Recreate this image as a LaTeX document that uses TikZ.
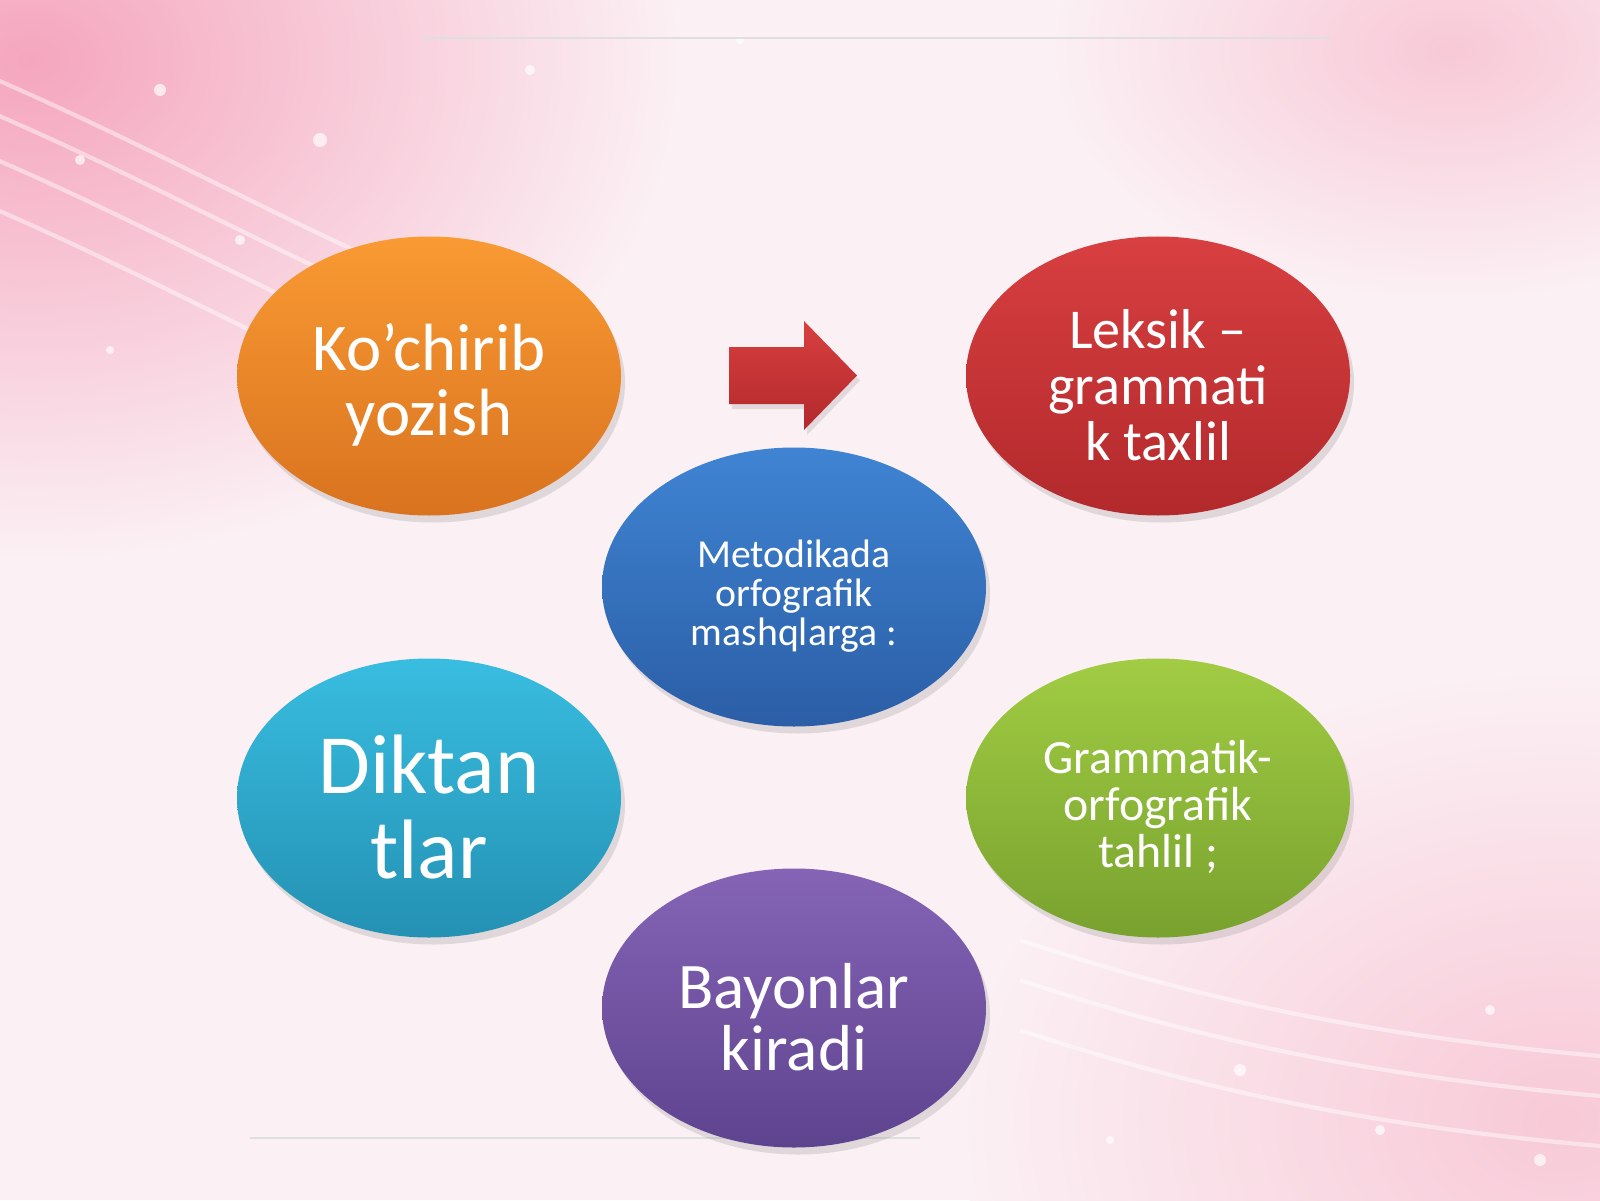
\documentclass[tikz,border=0pt]{standalone}
\usepackage{fontspec}
\setmainfont{Carlito}
\usetikzlibrary{shapes.geometric,shadows}

\definecolor{bgpink}{HTML}{FBF0F4}
\definecolor{rosy}{HTML}{F5A6BE}
\definecolor{rosylight}{HTML}{F8C9D7}
\definecolor{orangetop}{HTML}{F99A33}
\definecolor{orangebot}{HTML}{D9731F}
\definecolor{redtop}{HTML}{D83F40}
\definecolor{redbot}{HTML}{B2292C}
\definecolor{bluetop}{HTML}{3F84D3}
\definecolor{bluebot}{HTML}{2B5EA6}
\definecolor{cyantop}{HTML}{38BDE0}
\definecolor{cyanbot}{HTML}{2491B3}
\definecolor{greentop}{HTML}{A1CC43}
\definecolor{greenbot}{HTML}{78A22E}
\definecolor{purpletop}{HTML}{8564B6}
\definecolor{purplebot}{HTML}{5E438F}

\tikzset{
  bubble/.style={ellipse, minimum width=3.84cm, minimum height=2.79cm,
    inner sep=0pt,
    drop shadow={opacity=0.22, shadow xshift=0.04cm, shadow yshift=-0.07cm}},
  words/.style={align=center, text=white, inner sep=0pt, yshift=-0.09cm},
  streak/.style={white, line width=1.2pt, opacity=0.45},
  sparkle/.style={white, opacity=0.7}
}

\begin{document}
\begin{tikzpicture}

  % Background of the slide
  \fill[bgpink] (0,0) rectangle (16,12);
  \begin{scope}
    \clip (0,0) rectangle (16,12);
    \shade[inner color=rosy, outer color=bgpink] (0.3,11.4) ellipse (6.5 and 5);
    \shade[inner color=rosylight, outer color=bgpink] (15.6,0.8) ellipse (6 and 4.5);
    \shade[inner color=rosylight, outer color=bgpink] (14.5,11.5) ellipse (4 and 2.5);
    \foreach \s in {0,0.35,0.8,1.3}
      \draw[streak] (-0.5,11.4-\s) .. controls (1.2,10.7-\s) and (2.6,9.9-\s) .. (4.2,9.2-\s);
    \foreach \s in {0,0.4,0.9}
      \draw[streak] (10.2,2.6-\s) .. controls (12,2-\s) and (13.8,1.6-\s) .. (16.5,1.4-\s);
    \foreach \x/\y/\r in {1.6/11.1/0.06, 0.8/10.4/0.05, 3.2/10.6/0.07, 2.4/9.6/0.05,
        5.3/11.3/0.05, 1.1/8.5/0.04, 4.1/9.1/0.05, 7.4/11.6/0.04,
        12.4/1.3/0.06, 13.8/0.7/0.05, 14.9/1.9/0.05, 11.1/0.6/0.04, 15.4/0.4/0.06}
      \fill[sparkle] (\x,\y) circle (\r);
    \draw[gray!25, line width=0.6pt] (4.2,11.62) -- (13.3,11.62);
    \draw[gray!25, line width=0.6pt] (2.5,0.62) -- (9.2,0.62);
  \end{scope}

  % Draw the six ellipses
  \node[bubble, top color=orangetop, bottom color=orangebot] (kochirib) at (4.29,8.24) {};
  \node[bubble, top color=redtop, bottom color=redbot] (leksik) at (11.58,8.24) {};
  \node[bubble, top color=bluetop, bottom color=bluebot] (metod) at (7.94,6.13) {};
  \node[bubble, top color=cyantop, bottom color=cyanbot] (diktant) at (4.29,4.02) {};
  \node[bubble, top color=greentop, bottom color=greenbot] (grammatik) at (11.58,4.02) {};
  \node[bubble, top color=purpletop, bottom color=purplebot] (bayon) at (7.94,1.92) {};

  % Texts inside the ellipses
  \node[words, font=\fontsize{19}{18.5}\selectfont] (kochirib-t) at (kochirib.center)
    {Ko’chirib\\yozish};
  \node[words, font=\fontsize{16}{16}\selectfont] (leksik-t) at (leksik.center)
    {Leksik –\\grammati\\k taxlil};
  \node[words, font=\fontsize{11.3}{11.2}\selectfont] (metod-t) at (metod.center)
    {Metodikada\\orfografik\\mashqlarga :};
  \node[words, font=\fontsize{24}{24}\selectfont] (diktant-t) at (diktant.center)
    {Diktan\\tlar};
  \node[words, font=\fontsize{13.6}{13.3}\selectfont] (grammatik-t) at (grammatik.center)
    {Grammatik-\\orfografik\\tahlil ;};
  \node[words, font=\fontsize{18.5}{17.5}\selectfont] (bayon-t) at (bayon.center)
    {Bayonlar\\kiradi};

  % Block arrow between the top ellipses
  \shade[top color=redtop, bottom color=redbot,
         drop shadow={opacity=0.2, shadow xshift=0.03cm, shadow yshift=-0.05cm}]
    (7.29,7.96) -- (8.04,7.96) -- (8.04,7.70) -- (8.57,8.245)
    -- (8.04,8.79) -- (8.04,8.53) -- (7.29,8.53) -- cycle;

\end{tikzpicture}
\end{document}
